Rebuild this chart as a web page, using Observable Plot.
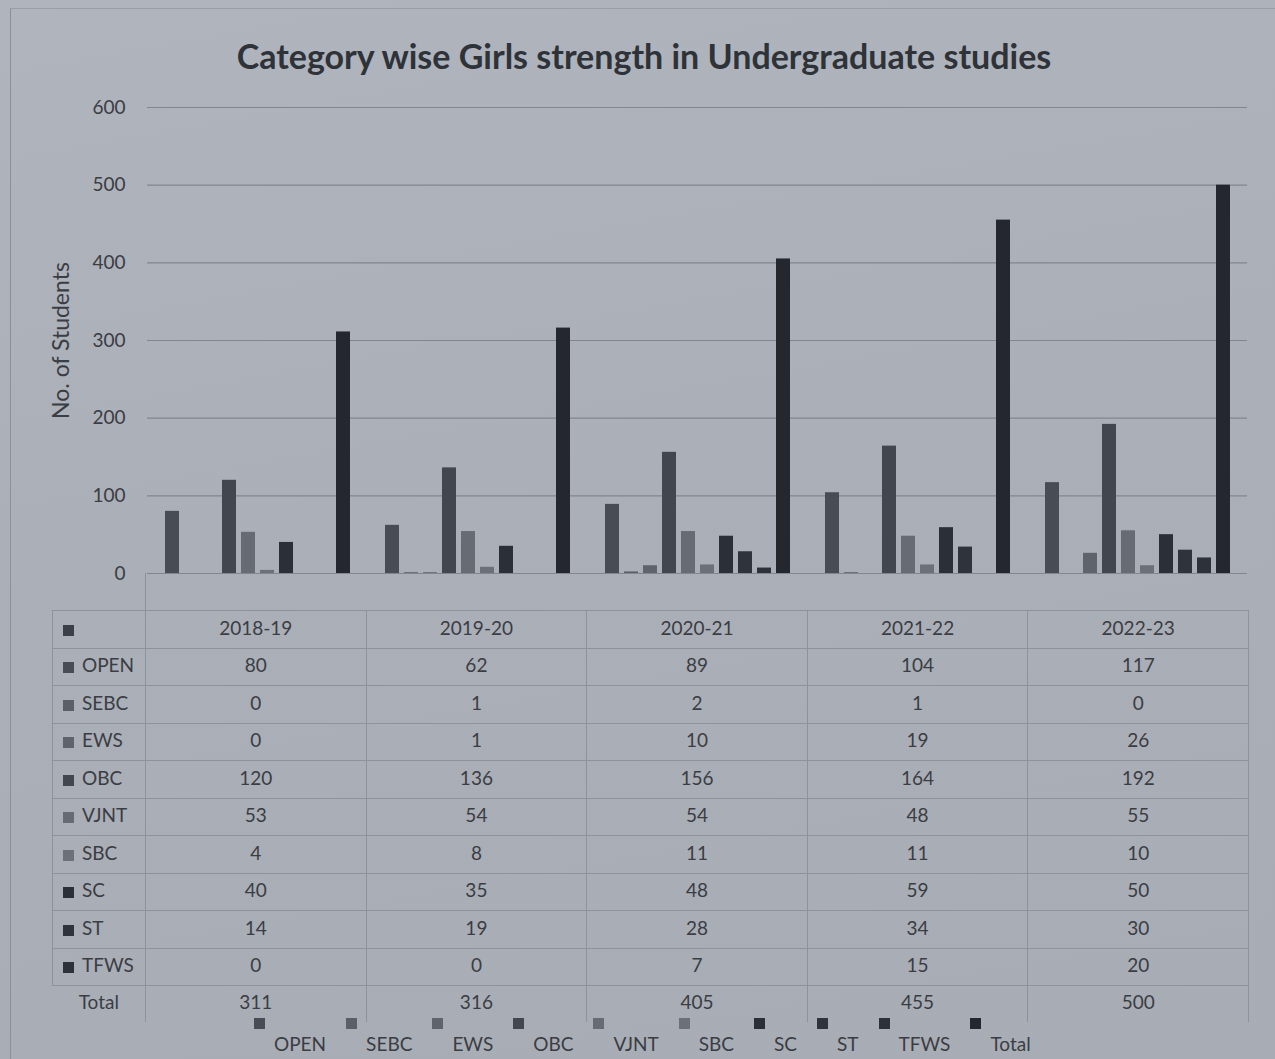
<!DOCTYPE html>
<html>
<head>
<meta charset="utf-8">
<script src="https://cdn.jsdelivr.net/npm/d3@7"></script>
<script src="https://cdn.jsdelivr.net/npm/@observablehq/plot@0.6"></script>
<style>
  html, body { margin: 0; padding: 0; background: #abafb7; }
  #page { position: relative; width: 1275px; height: 1059px; overflow: hidden;
          font-family: Lato, "Open Sans", sans-serif; color: #3a3d44;
          background: linear-gradient(170deg, #b0b4bc 0%, #abafb7 45%, #a8acb4 100%); }
  #frame { position: absolute; left: 10px; top: 8px; width: 1300px; height: 1100px;
           border-left: 1px solid #8c9098; border-top: 1px solid #9a9ea6; }
  #title { position: absolute; left: 0; width: 1288px; top: 35px; text-align: center;
           font-weight: 700; font-size: 34px; color: #2e3239; }
  #chart { position: absolute; left: 0; top: 0; }
  #stub { position: absolute; left: 145px; top: 573px; width: 1103px; height: 37px;
          border-left: 1px solid #8c9098; }
  #table { position: absolute; left: 52px; top: 610px; border-collapse: collapse;
           table-layout: fixed; font-size: 19px; color: #3a3d44; }
  #table td { height: 37.5px; padding: 0 0 4px 0; box-sizing: border-box; text-align: center; border: 1px solid #8e929a;
              white-space: nowrap; overflow: hidden; }
  #table td.key { text-align: left; padding-left: 10px; }
  #table tr.total td { border-top: 1px solid #8e929a; border-bottom: none; height: 36px; }
  #table tr.total td.key { border-left: none; border-bottom: none; text-align: center; padding-left: 0; }
  .sw { display: inline-block; width: 11px; height: 11px; margin-right: 8px; vertical-align: -1px; }
  #legend { position: absolute; left: 274px; top: 1033px; display: flex; gap: 0; font-size: 19px; color: #3a3d44; }
  #legend .item { position: relative; line-height: 22px; }
  #legend .item .sw { position: absolute; left: -20px; top: -15px; margin: 0; }
</style>
</head>
<body>
<div id="page">
  <div id="frame"></div>
  <div id="title">Category wise Girls strength in Undergraduate studies</div>
  <div id="chart"></div>
  <div id="stub"></div>
  <table id="table"></table>
  <div id="legend"></div>
</div>
<script>
// ---- data ----
const years  = ["2018-19", "2019-20", "2020-21", "2021-22", "2022-23"];
const series = ["OPEN", "SEBC", "EWS", "OBC", "VJNT", "SBC", "SC", "ST", "TFWS", "Total"];
const OPEN  = [80, 62, 89, 104, 117];
const SEBC  = [0, 1, 2, 1, 0];
const EWS   = [0, 1, 10, 19, 26];
const OBC   = [120, 136, 156, 164, 192];
const VJNT  = [53, 54, 54, 48, 55];
const SBC   = [4, 8, 11, 11, 10];
const SC    = [40, 35, 48, 59, 50];
const ST    = [14, 19, 28, 34, 30];
const TFWS  = [0, 0, 7, 15, 20];
const Total = [311, 316, 405, 455, 500];
// bars that the original chart does not draw although the table lists them
const missingBars = [["ST", "2018-19"], ["ST", "2019-20"], ["EWS", "2021-22"], ["TFWS", "2021-22"]];
const yTicks = [0, 100, 200, 300, 400, 500, 600];

// ---- styling ----
const palette = ["#484c54", "#5b5f67", "#5f636b", "#42464e", "#676b73", "#6c7078", "#2b2f37", "#2f333b", "#2d3139", "#24272e"];

const valuesBySeries = [OPEN, SEBC, EWS, OBC, VJNT, SBC, SC, ST, TFWS, Total];
const rows = [];
series.forEach((s, i) => years.forEach((y, j) => rows.push({series: s, year: y, value: valuesBySeries[i][j]})));
const plotted = rows.filter(d => !missingBars.some(([s, y]) => s === d.series && y === d.year));

const chart = Plot.plot({
  width: 1275,
  height: 600,
  marginTop: 107,
  marginBottom: 27,
  marginLeft: 145,
  marginRight: 27,
  style: {background: "transparent", fontSize: "19px", fontFamily: "Lato, 'Open Sans', sans-serif", color: "#3a3d44", overflow: "visible"},
  fx: {domain: years, padding: 0, axis: null, label: null},
  x: {domain: series, paddingInner: 0.27, paddingOuter: 0.86, axis: null, label: null},
  y: {domain: [0, 600], ticks: yTicks, tickSize: 0, tickPadding: 22, label: "No. of Students", labelAnchor: "center", labelOffset: 95, labelArrow: "none"},
  color: {domain: series, range: palette},
  marks: [
    Plot.ruleY(yTicks, {stroke: "#82868e", strokeWidth: 1.2}),
    Plot.barY(plotted, {fx: "year", x: "series", y: "value", fill: "series"})
  ]
});
const yLabel = chart.querySelector('[aria-label="y-axis label"]');
if (yLabel) yLabel.style.fontSize = "23px";
document.getElementById("chart").appendChild(chart);

const color = d3.scaleOrdinal(series, palette);

// ---- data table ----
const table = d3.select("#table");
const cg = table.append("colgroup");
cg.append("col").style("width", "93px");
years.forEach(() => cg.append("col").style("width", "220.6px"));

const head = table.append("tr");
head.append("td").attr("class", "key").append("span").attr("class", "sw").style("background", "#3b3f47");
years.forEach(y => head.append("td").text(y));

series.forEach((s, i) => {
  const tr = table.append("tr").attr("class", s === "Total" ? "total" : null);
  const k = tr.append("td").attr("class", "key");
  if (s !== "Total") k.append("span").attr("class", "sw").style("background", color(s));
  k.append("span").text(s);
  valuesBySeries[i].forEach(v => tr.append("td").text(v));
});

// ---- legend ----
const legend = d3.select("#legend");
series.forEach((s, i) => {
  const it = legend.append("div").attr("class", "item").style("margin-right", i < series.length - 1 ? "40px" : "0");
  it.append("span").attr("class", "sw").style("background", color(s));
  it.append("span").text(s);
});
</script>
</body>
</html>
